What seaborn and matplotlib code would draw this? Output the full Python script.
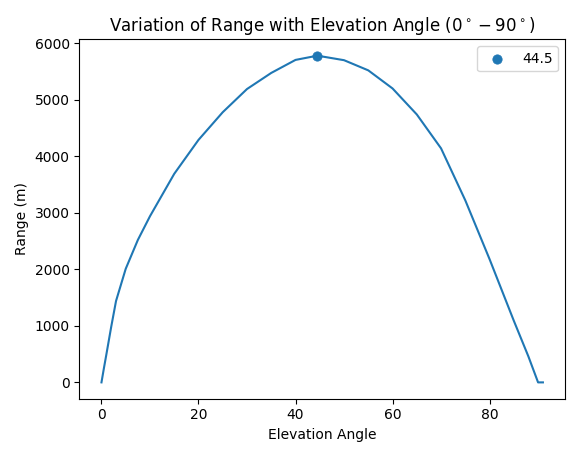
import pandas as pd
import seaborn as sns
import matplotlib.pyplot as plt

# values
angles = [0, 0.5, 1, 2, 3, 5, 7.5, 10, 15, 20, 25, 30, 35, 40, 44.5, 50, 55, 60, 65, 70, 75, 80, 85, 88, 90, 91]
ranges = [0, 250, 490, 980, 1440, 2010, 2520, 2940, 3690, 4290, 4780, 5190, 5475, 5705, 5780, 5700, 5520, 5200, 4740, 4140, 3220, 2180, 1090, 460, 0, 0]
best_angle = [44.5]
best_range = [5780]

df = pd.DataFrame({"angle": angles, "range": ranges})

fig, ax = plt.subplots(figsize=(5.8, 4.57), dpi=100)
sns.lineplot(x="angle", y="range", data=df, ax=ax, color="#1f77b4", sort=False)
sns.scatterplot(x=best_angle, y=best_range, ax=ax, color="#1f77b4", s=45,
                edgecolor="#1f77b4", label="44.5")

ax.set_title(r"Variation of Range with Elevation Angle ($0^\circ - 90^\circ$)")
ax.set_xlabel("Elevation Angle")
ax.set_ylabel("Range (m)")
ax.legend(loc="upper right")

plt.tight_layout()
plt.savefig("out.png")
